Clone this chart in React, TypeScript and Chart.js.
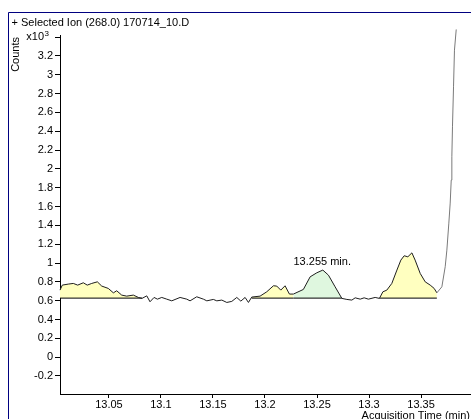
import React, { useEffect, useRef } from 'react';
import { Chart, registerables } from 'chart.js';

Chart.register(...registerables);

const titleText = '+ Selected Ion (268.0) 170714_10.D';
const yAxisTitle = 'Counts';
const xAxisTitle = 'Acquisition Time (min)';
const yExponentBase = 'x10';
const yExponentPower = '3';

const times = [
  13.003, 13.0052, 13.011, 13.0158, 13.020, 13.0254, 13.0292, 13.0335, 13.0389, 13.0431,
  13.0494, 13.0543, 13.0575, 13.0623, 13.0671, 13.0735, 13.0783, 13.0818, 13.0864, 13.0895,
  13.0934, 13.0966, 13.1008, 13.1056, 13.1104, 13.1184, 13.1248, 13.1280, 13.1344, 13.1408,
  13.1441, 13.1504, 13.1537, 13.1585, 13.1633, 13.1681, 13.1729, 13.1768, 13.1809, 13.1841,
  13.1873, 13.1953, 13.2017, 13.2081, 13.2113, 13.2152, 13.2193, 13.2235, 13.2273, 13.2369,
  13.2434, 13.2498, 13.2556, 13.2610, 13.2674, 13.2739, 13.2787, 13.2835, 13.2867, 13.2915,
  13.2953, 13.2994, 13.3059, 13.3100, 13.3133, 13.3171, 13.3219, 13.3268, 13.3306, 13.3338,
  13.3373, 13.3412, 13.3443, 13.3492, 13.3540, 13.3588, 13.3626, 13.3652, 13.3700, 13.3732,
  13.3748, 13.3767, 13.3780, 13.3790, 13.3796, 13.3802, 13.3812, 13.3821, 13.3838,
];

// Counts in units of 10^3
const counts = [
  0.712, 0.765, 0.776, 0.783, 0.765, 0.790, 0.765, 0.783, 0.800, 0.755,
  0.730, 0.683, 0.705, 0.659, 0.648, 0.659, 0.634, 0.624, 0.651, 0.588,
  0.634, 0.616, 0.634, 0.616, 0.598, 0.634, 0.616, 0.598, 0.641, 0.616,
  0.598, 0.613, 0.598, 0.606, 0.581, 0.592, 0.634, 0.595, 0.634, 0.581,
  0.638, 0.648, 0.694, 0.758, 0.755, 0.712, 0.758, 0.670, 0.670, 0.719,
  0.853, 0.896, 0.925, 0.871, 0.747, 0.624, 0.613, 0.606, 0.630, 0.616,
  0.630, 0.616, 0.634, 0.624, 0.694, 0.712, 0.783, 0.925, 1.031, 1.077,
  1.066, 1.108, 1.031, 0.889, 0.800, 0.765, 0.730, 0.683, 0.747, 0.960,
  1.137, 1.424, 1.637, 1.881, 2.129, 2.447, 2.872, 3.262, 3.482,
];

const peakStarts = [13.003, 13.1873, 13.2273, 13.3100];
const peakEnds = [13.0818, 13.2273, 13.2739, 13.3652];
const peakIsTarget = [false, false, true, false];
const peakBaseline = 0.627;

const peakLabelTime = 13.255;
const peakLabelValue = 0.925;
const peakLabelText = '13.255 min.';

const xTickValues = [13.05, 13.1, 13.15, 13.2, 13.25, 13.3, 13.35];
const yTickValues = [-0.2, 0, 0.2, 0.4, 0.6, 0.8, 1, 1.2, 1.4, 1.6, 1.8, 2, 2.2, 2.4, 2.6, 2.8, 3, 3.2, 3.4];
const yExponentTick = 3.4;

const FONT = '"Liberation Sans", Arial, sans-serif';

export default function App() {
  const ref = useRef<HTMLCanvasElement | null>(null);

  useEffect(() => {
    if (!ref.current) return;
    const mainData = times.map((t, i) => ({ x: t, y: counts[i] }));

    const fillSets: any[] = [];
    const baseSets: any[] = [];
    peakStarts.forEach((s, k) => {
      const e = peakEnds[k];
      const pts = mainData.filter((p) => p.x >= s - 1e-9 && p.x <= e + 1e-9);
      fillSets.push({
        data: pts,
        borderWidth: 0,
        borderColor: 'rgba(0,0,0,0)',
        backgroundColor: peakIsTarget[k] ? '#DFF7DF' : '#FFFFC0',
        fill: { value: peakBaseline },
        pointRadius: 0,
        tension: 0,
        order: 3,
      });
      baseSets.push({
        data: [
          { x: s, y: peakBaseline },
          { x: e, y: peakBaseline },
        ],
        borderColor: '#000',
        borderWidth: 1,
        pointRadius: 0,
        fill: false,
        order: 2,
      });
    });

    const decor = {
      id: 'decor',
      afterDraw(chart: any) {
        const ctx = chart.ctx;
        const W = chart.width;
        const H = chart.height;
        ctx.save();
        // frame
        ctx.strokeStyle = '#000080';
        ctx.lineWidth = 1;
        ctx.beginPath();
        ctx.moveTo(0.5, H);
        ctx.lineTo(0.5, 4.5);
        ctx.lineTo(W, 4.5);
        ctx.stroke();
        // title
        ctx.fillStyle = '#000';
        ctx.font = '11px ' + FONT;
        ctx.textAlign = 'left';
        ctx.textBaseline = 'middle';
        ctx.fillText(titleText, 3.5, 14.5);
        // x axis title
        ctx.textAlign = 'right';
        ctx.fillText(xAxisTitle, W - 1, H - 3);
        // exponent label
        const yS = chart.scales.y;
        const ty = yS.getPixelForValue(yExponentTick);
        ctx.font = '8px ' + FONT;
        ctx.fillText(yExponentPower, 41, ty - 3);
        ctx.font = '11px ' + FONT;
        ctx.fillText(yExponentBase, 36, ty);
        // peak label
        const xS = chart.scales.x;
        ctx.textAlign = 'center';
        ctx.fillText(peakLabelText, xS.getPixelForValue(peakLabelTime), yS.getPixelForValue(peakLabelValue) - 8);
        // y axis title
        ctx.translate(8, 29);
        ctx.rotate(-Math.PI / 2);
        ctx.textAlign = 'right';
        ctx.fillText(yAxisTitle, 0, 0);
        ctx.restore();
      },
    };

    const chart = new Chart(ref.current, {
      type: 'line',
      data: {
        datasets: [
          {
            data: mainData,
            borderColor: '#1e1e1e',
            borderWidth: 1,
            pointRadius: 0,
            tension: 0,
            fill: false,
            clip: false as any,
            order: 0,
            segment: {
              borderColor: (c: any) => (c.p0.parsed.x >= peakEnds[3] - 1e-9 ? '#7a7a7a' : undefined),
            },
          } as any,
          ...baseSets,
          ...fillSets,
        ],
      },
      options: {
        animation: false,
        responsive: false,
        layout: { padding: { top: 27, left: 0, right: 0, bottom: 0 } },
        plugins: { legend: { display: false }, tooltip: { enabled: false } },
        scales: {
          x: {
            type: 'linear',
            min: 13.003,
            max: 13.398,
            afterBuildTicks: (s: any) => {
              s.ticks = xTickValues.map((v) => ({ value: v }));
            },
            afterFit: (s: any) => {
              s.height = 25;
            },
            grid: { drawOnChartArea: false, drawTicks: true, tickLength: 4, color: '#000' },
            border: { color: '#000', width: 1 },
            ticks: {
              color: '#000',
              font: { family: FONT, size: 11 },
              padding: 0,
              maxRotation: 0,
              autoSkip: false,
              callback: (v: any) => String(Math.round(Number(v) * 100) / 100),
            },
          },
          y: {
            type: 'linear',
            min: -0.392,
            max: 3.423,
            afterBuildTicks: (s: any) => {
              s.ticks = yTickValues.map((v) => ({ value: v }));
            },
            afterFit: (s: any) => {
              s.width = 52;
            },
            grid: { drawOnChartArea: false, drawTicks: true, tickLength: 5, color: '#000' },
            border: { color: '#000', width: 1 },
            ticks: {
              color: '#000',
              font: { family: FONT, size: 11 },
              padding: 2,
              autoSkip: false,
              callback: (v: any) => {
                const n = Number(v);
                if (Math.abs(n - yExponentTick) < 1e-9) return '';
                return String(Math.round(n * 10) / 10);
              },
            },
          },
        },
      },
      plugins: [decor],
    });

    return () => chart.destroy();
  }, []);

  return (
    <div style={{ position: 'absolute', left: 8, top: 8, width: 463, height: 411 }}>
      <canvas ref={ref} width={463} height={411} style={{ display: 'block', width: 463, height: 411 }} />
    </div>
  );
}
